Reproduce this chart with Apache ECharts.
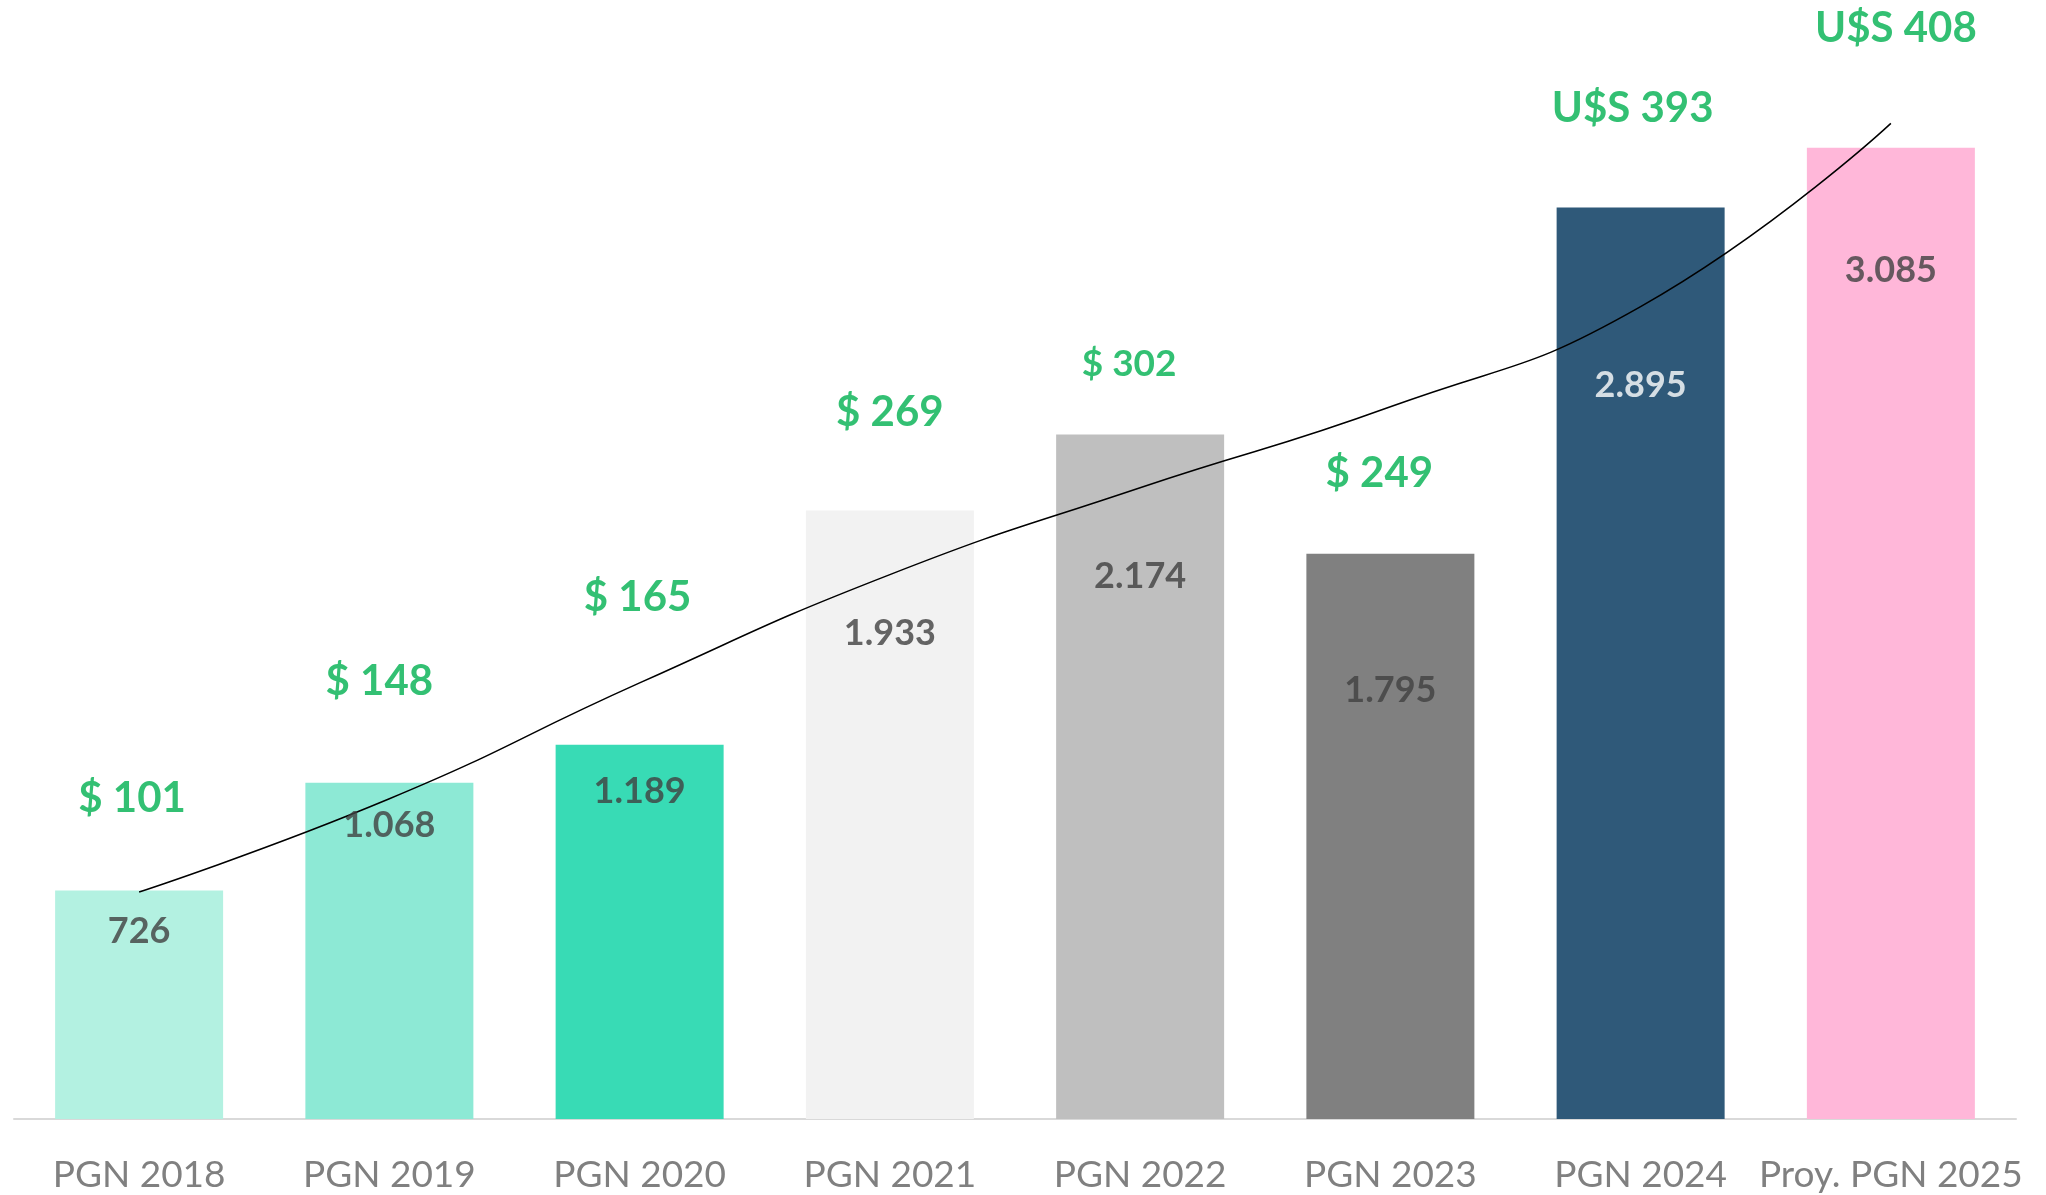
<!DOCTYPE html>
<html>
<head>
<meta charset="utf-8">
<title>PGN</title>
<script src="https://cdn.jsdelivr.net/npm/echarts@6/dist/echarts.min.js"></script>
<style>
  html, body { margin: 0; padding: 0; background: #fff; }
  #chart { width: 2046px; height: 1195px; }
</style>
</head>
<body>
<div id="chart"></div>
<script>
  // datos
  var categories = ['PGN 2018', 'PGN 2019', 'PGN 2020', 'PGN 2021', 'PGN 2022', 'PGN 2023', 'PGN 2024', 'Proy. PGN 2025'];
  var barValues = [726, 1068, 1189, 1933, 2174, 1795, 2895, 3085];
  var usdValues = [101, 148, 165, 269, 302, 249, 393, 408];
  var usdPrefix = ['$', '$', '$', '$', '$', '$', 'U$S', 'U$S'];
  var trendValues = [721, 1017, 1385, 1729, 2005, 2262, 2580, 3162];

  var barColors = ['#B3F1E1', '#8DE9D5', '#38DBB5', '#F2F2F2', '#BFBFBF', '#808080', '#2F5979', '#FFB7D9'];
  var valueColors = ['#404040', '#404040', '#404040', '#404040', '#404040', '#404040', '#FFFFFF', '#404040'];
  // posicion de las etiquetas (px desde el tope de la barra)
  var valueLabelDrop = [41, 43, 47, 123, 142, 137, 178, 123];
  var usdLabelShift = [[-7, -92], [-10, -101], [-2, -147], [0, -98], [-11, -70], [-11, -80], [-8, -99], [5, -119]];
  var usdLabelSize = [42, 42, 42, 42, 37, 42, 42, 42];

  function thousands(v) {
    return String(v).replace(/\B(?=(\d{3})+(?!\d))/g, '.');
  }

  var chart = echarts.init(document.getElementById('chart'));
  var option = {
    animation: false,
    textStyle: { fontFamily: 'Lato' },
    grid: { left: 14, right: 30, top: 17, bottom: 76 },
    xAxis: {
      type: 'category',
      data: categories,
      axisLine: { lineStyle: { color: '#D9D9D9', width: 2 } },
      axisTick: { show: false },
      axisLabel: { color: '#808080', fontSize: 37, fontFamily: 'Lato', margin: 38, interval: 0 }
    },
    yAxis: { type: 'value', min: 0, max: 3500, show: false },
    series: [
      {
        name: 'PGN',
        type: 'bar',
        barWidth: 168,
        data: barValues.map(function (v, i) {
          return { value: v, itemStyle: { color: barColors[i] } };
        })
      },
      {
        name: 'tendencia',
        type: 'line',
        z: 3,
        smooth: 0.5,
        symbol: 'none',
        data: trendValues,
        lineStyle: { color: '#000', width: 1.5 }
      },
      {
        name: 'valores',
        type: 'scatter',
        z: 4,
        symbolSize: 1,
        itemStyle: { color: 'transparent' },
        label: {
          show: true,
          position: 'inside',
          fontFamily: 'Lato',
          fontWeight: 'bold',
          fontSize: 36,
          formatter: function (p) { return thousands(p.value); }
        },
        data: barValues.map(function (v, i) {
          return { value: v, label: { color: valueColors[i], offset: [0, valueLabelDrop[i]] } };
        })
      },
      {
        name: 'usd',
        type: 'scatter',
        z: 4,
        symbolSize: 1,
        itemStyle: { color: 'transparent' },
        label: {
          show: true,
          position: 'inside',
          color: '#00B050',
          fontFamily: 'Lato',
          fontWeight: 'bold',
          formatter: function (p) { return usdPrefix[p.dataIndex] + ' ' + usdValues[p.dataIndex]; }
        },
        data: barValues.map(function (v, i) {
          return { value: v, label: { fontSize: usdLabelSize[i], offset: usdLabelShift[i] } };
        })
      }
    ]
  };
  chart.setOption(option);
</script>
</body>
</html>
